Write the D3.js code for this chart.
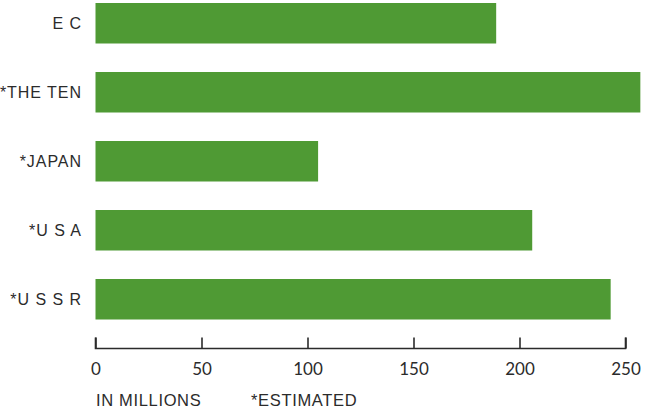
<!DOCTYPE html>
<html>
<head>
<meta charset="utf-8">
<script src="https://cdn.jsdelivr.net/npm/d3@7"></script>
<style>
  html, body { margin: 0; padding: 0; background: #ffffff; }
  svg { display: block; }
</style>
</head>
<body>
<svg id="chart" width="645" height="413"></svg>
<script>
// Population by region, in millions (* = estimated)
const categories = ["E C", "*THE TEN", "*JAPAN", "*U S A", "*U S S R"];
const values = [189, 257, 105, 206, 243];
const tickValues = [0, 50, 100, 150, 200, 250];
const unitNote = "IN MILLIONS";
const estimateNote = "*ESTIMATED";

const svg = d3.select("#chart");
const barColor = "#4f9a34";
const inkColor = "#2b2b2b";

const x = d3.scaleLinear().domain([0, 250]).range([95.5, 625.5]);
const y = d3.scaleBand().domain(categories)
  .range([-11.25, 333.75])
  .paddingInner(0.413)
  .paddingOuter(0.2065);

// bars
svg.append("g").selectAll("rect")
  .data(values)
  .join("rect")
  .attr("x", x(0))
  .attr("y", (d, i) => y(categories[i]))
  .attr("width", d => x(d) - x(0))
  .attr("height", y.bandwidth())
  .attr("fill", barColor);

// category labels
svg.append("g").selectAll("text")
  .data(categories)
  .join("text")
  .attr("x", 82)
  .attr("y", d => y(d) + y.bandwidth() / 2)
  .attr("dy", "0.36em")
  .attr("text-anchor", "end")
  .attr("font-family", "Liberation Sans, Arial, sans-serif")
  .attr("font-size", 16)
  .attr("letter-spacing", "0.06em")
  .attr("fill", inkColor)
  .text(d => d);

// value axis with ticks pointing upward
const axis = d3.axisBottom(x).tickValues(tickValues).tickSize(-11).tickPadding(14);
const axisG = svg.append("g")
  .attr("transform", "translate(0,348.5)")
  .call(axis);
axisG.select(".domain").attr("d", `M${x(0)},-11V0H${x(250)}V-11`).attr("stroke", inkColor).attr("stroke-width", 1.6);
axisG.selectAll(".tick line").attr("stroke", inkColor).attr("stroke-width", 1.6);
axisG.selectAll(".tick text")
  .attr("font-family", "Lato, Liberation Sans, sans-serif")
  .attr("font-size", 17)
  .attr("fill", inkColor);

// footnotes
const notes = svg.append("g")
  .attr("font-family", "Liberation Sans, Arial, sans-serif")
  .attr("font-size", 16.5)
  .attr("letter-spacing", "0.04em")
  .attr("fill", inkColor);
notes.append("text").attr("x", 96).attr("y", 406).text(unitNote);
notes.append("text").attr("x", 251).attr("y", 406).text(estimateNote);
</script>
</body>
</html>
